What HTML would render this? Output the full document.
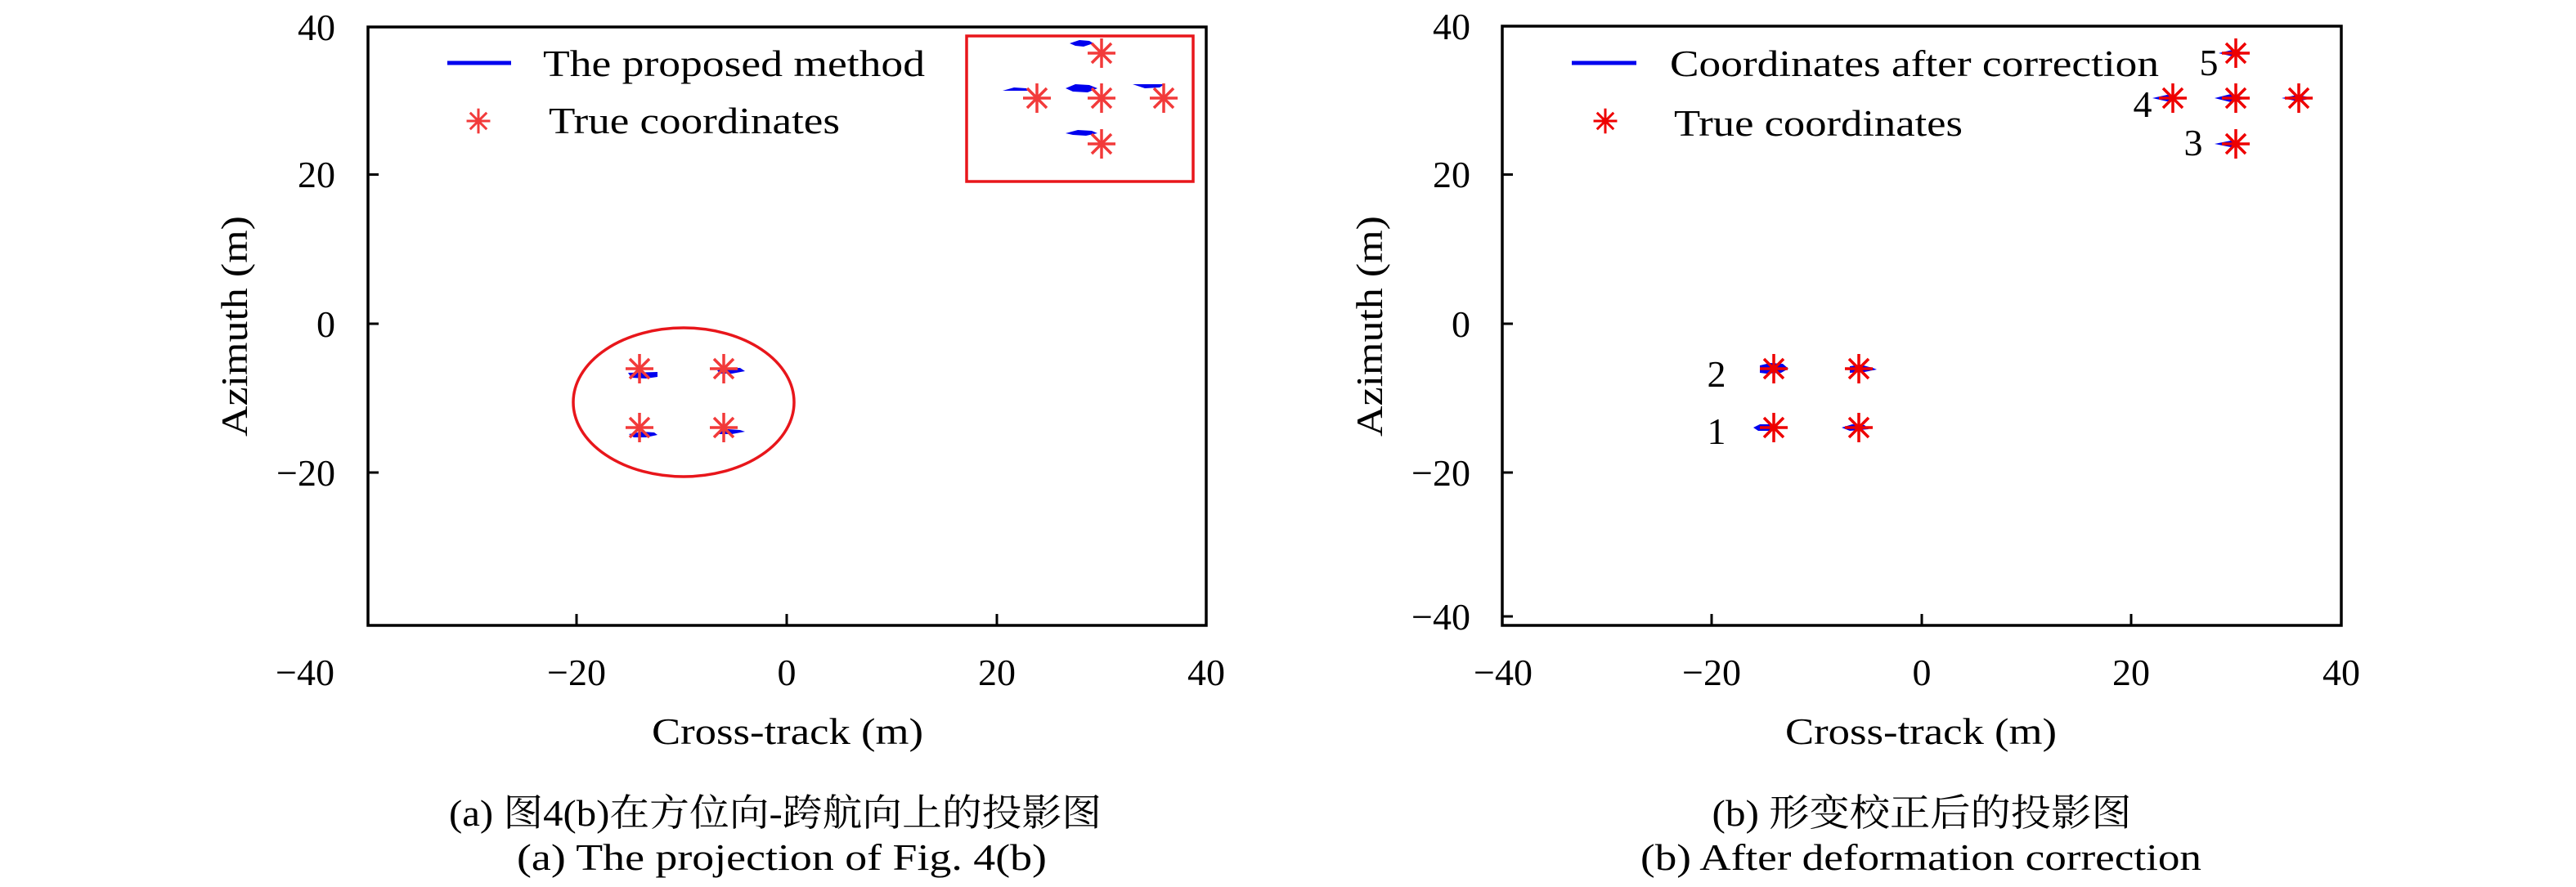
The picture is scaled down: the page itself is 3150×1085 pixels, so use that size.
<!DOCTYPE html>
<html><head><meta charset="utf-8"><style>
html,body{margin:0;padding:0;background:#fff;}
svg{display:block;}
text{font-family:"Liberation Serif","Noto Serif CJK SC",serif;fill:#000;}
</style></head><body>
<svg width="3150" height="1085" viewBox="0 0 3150 1085" xmlns="http://www.w3.org/2000/svg">
<defs>
<g id="st" stroke-width="3.5" stroke-linecap="butt">
<line x1="-17" y1="0" x2="17" y2="0"/><line x1="0" y1="-18" x2="0" y2="18"/>
<line x1="-12" y1="-12" x2="12" y2="12"/><line x1="-12" y1="12" x2="12" y2="-12"/>
</g>
</defs>

<!-- LEFT PLOT -->
<g>
<!-- red annotations -->
<rect x="1182" y="44" width="277" height="178" fill="none" stroke="#e8161b" stroke-width="3.5"/>
<ellipse cx="836" cy="492" rx="135" ry="91" fill="none" stroke="#e8161b" stroke-width="3.5"/>
<!-- blue blobs -->
<g fill="#0000ee">
<polygon points="768,456 804,455 804,461 790,463 772,462"/>
<polygon points="877,453 890,450 905,450 911,454 895,457 880,457"/>
<polygon points="769,531 785,528 800,529 804,532 790,535 775,535"/>
<polygon points="877,529 890,525 905,526 911,528 895,531 880,531"/>
<polygon points="1308,53 1320,49 1332,50 1337,53 1325,57 1315,56"/>
<polygon points="1226,111 1240,107 1255,108 1260,111"/>
<polygon points="1303,108 1315,103 1332,104 1342,108 1330,113 1312,112"/>
<polygon points="1385,103 1424,103 1418,107 1400,108"/>
<polygon points="1303,163 1318,159 1335,160 1342,163 1328,166 1312,165"/>
</g>
<g stroke="#f23a3a">
<use href="#st" x="782" y="451"/><use href="#st" x="885" y="451"/>
<use href="#st" x="782" y="523"/><use href="#st" x="885" y="523"/>
<use href="#st" x="1347" y="65"/><use href="#st" x="1268" y="120"/>
<use href="#st" x="1347" y="120"/><use href="#st" x="1423" y="120"/>
<use href="#st" x="1347" y="176"/>
</g>
<!-- frame -->
<rect x="450" y="33" width="1025" height="732" fill="none" stroke="#000" stroke-width="3.5"/>
<g stroke="#000" stroke-width="3">
<line x1="705" y1="765" x2="705" y2="751"/><line x1="962" y1="765" x2="962" y2="751"/><line x1="1219" y1="765" x2="1219" y2="751"/>
<line x1="450" y1="213.5" x2="463" y2="213.5"/><line x1="450" y1="396" x2="463" y2="396"/><line x1="450" y1="578" x2="463" y2="578"/>
</g>
<g font-size="46" text-anchor="end">
<text x="410" y="49">40</text><text x="410" y="229">20</text><text x="410" y="412">0</text><text x="410" y="594">−20</text>
</g>
<g font-size="46" text-anchor="middle">
<text x="373" y="838">−40</text><text x="705" y="838">−20</text><text x="962" y="838">0</text><text x="1219" y="838">20</text><text x="1475" y="838">40</text>
</g>
<text x="963" y="910" font-size="46" text-anchor="middle" textLength="332" lengthAdjust="spacingAndGlyphs">Cross-track (m)</text>
<text transform="translate(302,399) rotate(-90)" font-size="46" text-anchor="middle" textLength="270" lengthAdjust="spacingAndGlyphs">Azimuth (m)</text>
<!-- legend -->
<line x1="547" y1="77" x2="625" y2="77" stroke="#0000ee" stroke-width="5"/>
<text x="664" y="93" font-size="45" textLength="467" lengthAdjust="spacingAndGlyphs">The proposed method</text>
<use href="#st" x="585" y="148" stroke="#f23a3a" transform="translate(585,148) scale(0.85) translate(-585,-148)"/>
<text x="671" y="163" font-size="45" textLength="356" lengthAdjust="spacingAndGlyphs">True coordinates</text>
<!-- caption -->
<text x="948" y="1010" font-size="46" text-anchor="middle" textLength="798" lengthAdjust="spacingAndGlyphs">(a) 图4(b)在方位向-跨航向上的投影图</text>
<text x="956" y="1064" font-size="46" text-anchor="middle" textLength="648" lengthAdjust="spacingAndGlyphs">(a) The projection of Fig. 4(b)</text>
</g>

<!-- RIGHT PLOT -->
<g>
<g fill="#0000ee">
<polygon points="2152,447 2165,444 2180,445 2187,451 2178,456 2160,457 2152,456"/>
<polygon points="2262,448 2275,446 2290,450 2295,452 2280,455 2262,456"/>
<polygon points="2144,523 2152,519 2172,519 2175,523 2170,527 2150,527"/>
<polygon points="2252,523 2265,519 2280,520 2285,525 2262,527"/>
<polygon points="2713,65 2730,61 2747,65 2730,69"/>
<polygon points="2632,120 2650,116 2665,120 2650,124"/>
<polygon points="2708,120 2728,115 2747,120 2728,125"/>
<polygon points="2790,120 2810,116 2828,120 2810,124"/>
<polygon points="2708,176 2728,172 2747,176 2728,180"/>
</g>
<g stroke="#ee0000">
<use href="#st" x="2169" y="451"/><use href="#st" x="2273" y="451"/>
<use href="#st" x="2169" y="523"/><use href="#st" x="2273" y="523"/>
<use href="#st" x="2734" y="65"/><use href="#st" x="2657" y="120"/>
<use href="#st" x="2734" y="120"/><use href="#st" x="2811" y="120"/>
<use href="#st" x="2734" y="176"/>
</g>
<g font-size="46" text-anchor="middle">
<text x="2099" y="473">2</text><text x="2099" y="543">1</text>
<text x="2701" y="92">5</text><text x="2620" y="143">4</text><text x="2682" y="190">3</text>
</g>
<rect x="1837" y="32" width="1026" height="733" fill="none" stroke="#000" stroke-width="3.5"/>
<g stroke="#000" stroke-width="3">
<line x1="2093" y1="765" x2="2093" y2="751"/><line x1="2350" y1="765" x2="2350" y2="751"/><line x1="2606" y1="765" x2="2606" y2="751"/>
<line x1="1837" y1="213.5" x2="1850" y2="213.5"/><line x1="1837" y1="396" x2="1850" y2="396"/><line x1="1837" y1="578" x2="1850" y2="578"/><line x1="1837" y1="754" x2="1850" y2="754"/>
</g>
<g font-size="46" text-anchor="end">
<text x="1798" y="48">40</text><text x="1798" y="229">20</text><text x="1798" y="412">0</text><text x="1798" y="594">−20</text><text x="1798" y="770">−40</text>
</g>
<g font-size="46" text-anchor="middle">
<text x="1838" y="838">−40</text><text x="2093" y="838">−20</text><text x="2350" y="838">0</text><text x="2606" y="838">20</text><text x="2863" y="838">40</text>
</g>
<text x="2349" y="910" font-size="46" text-anchor="middle" textLength="332" lengthAdjust="spacingAndGlyphs">Cross-track (m)</text>
<text transform="translate(1690,399) rotate(-90)" font-size="46" text-anchor="middle" textLength="270" lengthAdjust="spacingAndGlyphs">Azimuth (m)</text>
<line x1="1922" y1="77" x2="2001" y2="77" stroke="#0000ee" stroke-width="5"/>
<text x="2042" y="93" font-size="45" textLength="598" lengthAdjust="spacingAndGlyphs">Coordinates after correction</text>
<use href="#st" x="1963" y="148" stroke="#ee0000" transform="translate(1963,148) scale(0.85) translate(-1963,-148)"/>
<text x="2047" y="166" font-size="45" textLength="353" lengthAdjust="spacingAndGlyphs">True coordinates</text>
<text x="2350" y="1010" font-size="46" text-anchor="middle" textLength="513" lengthAdjust="spacingAndGlyphs">(b) 形变校正后的投影图</text>
<text x="2349" y="1064" font-size="46" text-anchor="middle" textLength="686" lengthAdjust="spacingAndGlyphs">(b) After deformation correction</text>
</g>
</svg>
</body></html>
